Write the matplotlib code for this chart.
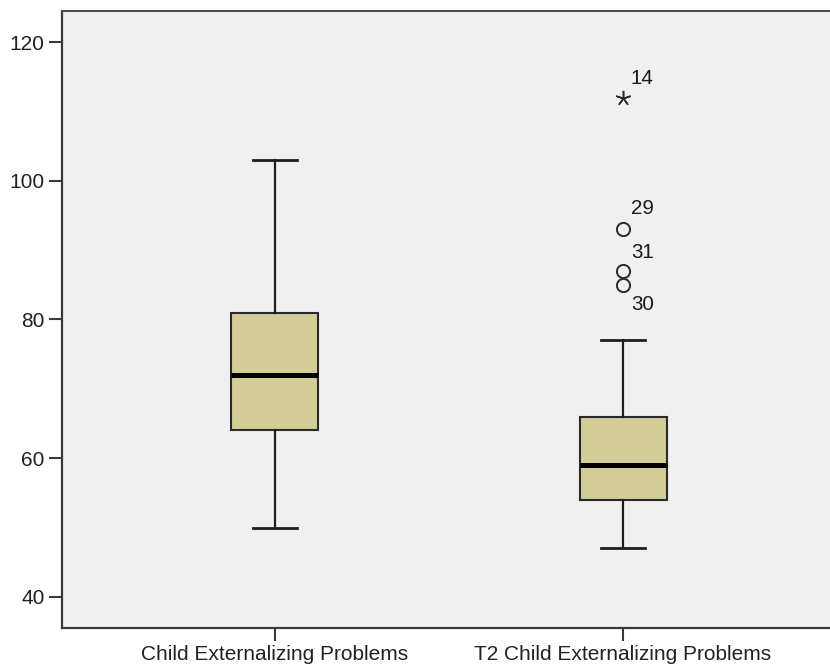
import matplotlib
matplotlib.use("Agg")
import matplotlib.pyplot as plt

plt.rcParams["font.family"] = ["Liberation Sans", "DejaVu Sans"]

# Summary statistics of the two scales
categories = ["Child Externalizing Problems", "T2 Child Externalizing Problems"]
medians = [72, 59]
q1 = [64, 54]
q3 = [81, 66]
whisker_low = [50, 47]
whisker_high = [103, 77]

# Outliers (circles) and extreme values (stars) with case numbers
outlier_group = [2, 2, 2]
outlier_values = [93, 87, 85]
outlier_cases = ["29", "31", "30"]
outlier_label_dy = [-21, -18, 20]

extreme_group = [2]
extreme_values = [112]
extreme_cases = ["14"]
extreme_label_dy = [-19]

y_ticks = [40, 60, 80, 100, 120]

fig = plt.figure(figsize=(8.30, 6.69), dpi=100)
fig.patch.set_facecolor("white")
ax = fig.add_axes([62 / 830, 1 - 628 / 669, (836 - 62) / 830, (628 - 11) / 669])
ax.set_facecolor("#F0F0F0")

stats = []
for i, name in enumerate(categories):
    stats.append(dict(label=name, med=medians[i], q1=q1[i], q3=q3[i],
                      whislo=whisker_low[i], whishi=whisker_high[i], fliers=[]))

ax.bxp(stats, positions=[1, 2], widths=0.25, capwidths=0.125,
       patch_artist=True, showfliers=False,
       boxprops=dict(facecolor="#D3CE98", edgecolor="#2a2a2a", linewidth=1.5),
       whiskerprops=dict(color="#1e1e1e", linewidth=1.6),
       capprops=dict(color="#1e1e1e", linewidth=2.0),
       medianprops=dict(color="black", linewidth=3.6, solid_capstyle="butt"))

ax.plot(outlier_group, outlier_values, linestyle="none", marker="o",
        markersize=9.5, markerfacecolor="none", markeredgecolor="#2a2a2a",
        markeredgewidth=1.4)
ax.plot(extreme_group, extreme_values, linestyle="none", marker=(5, 2, 0),
        markersize=11, markeredgecolor="#2a2a2a", markeredgewidth=1.1)

label_font = dict(fontsize=14.8, color="#1a1a1a", ha="left", va="center")
for x, v, c, dy in zip(outlier_group, outlier_values, outlier_cases, outlier_label_dy):
    ax.annotate(c, (x, v), xytext=(8, -dy), textcoords="offset pixels", **label_font)
for x, v, c, dy in zip(extreme_group, extreme_values, extreme_cases, extreme_label_dy):
    ax.annotate(c, (x, v), xytext=(7, -dy), textcoords="offset pixels", **label_font)

ax.set_xlim(0.388, 2.612)
ax.set_ylim(35.53, 124.47)
ax.set_yticks(y_ticks)
ax.set_xticks([1, 2])
ax.set_xticklabels(categories)

for side in ["left", "bottom"]:
    ax.spines[side].set_color("#3a3a3a")
    ax.spines[side].set_linewidth(1.6)
ax.spines["top"].set_color("#4a4a4a")
ax.spines["top"].set_linewidth(1.4)
ax.spines["right"].set_visible(False)

ax.tick_params(axis="both", direction="out", length=9.5, width=1.5,
               color="#3a3a3a", labelsize=15, labelcolor="#222222", pad=3)

fig.savefig("out.png", dpi=100)
